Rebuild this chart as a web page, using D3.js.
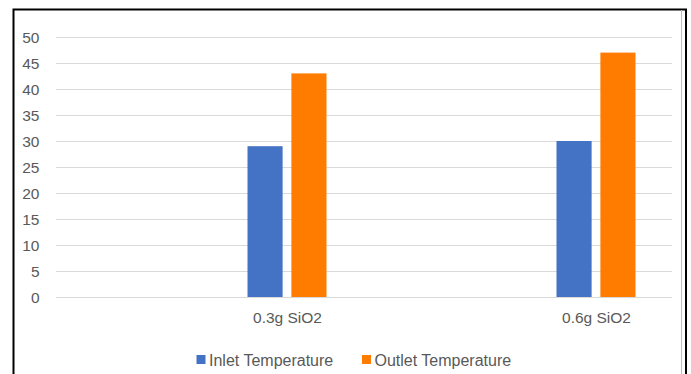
<!DOCTYPE html>
<html><head><meta charset="utf-8">
<script src="https://cdn.jsdelivr.net/npm/d3@7"></script>
<style>
html,body{margin:0;padding:0;background:#fff;}
svg{display:block;font-family:"Liberation Sans",Arial,sans-serif;}
</style></head>
<body><svg id="c" width="691" height="374"></svg>
<script>
const categories = ["0.3g SiO2", "0.6g SiO2"];
const seriesNames = ["Inlet Temperature", "Outlet Temperature"];
const inletValues = [29, 30];
const outletValues = [43, 47];
const yTicks = [0, 5, 10, 15, 20, 25, 30, 35, 40, 45, 50];
const colors = ["#4472C4", "#FF7C00"];

const svg = d3.select("#c");
const plot = {left: 56, right: 672, top: 37, bottom: 297};

// outer frame
svg.append("rect").attr("x", 13.5).attr("y", 9.5).attr("width", 672.5).attr("height", 380)
  .attr("fill", "none").attr("stroke", "#000").attr("stroke-width", 2);
svg.append("line").attr("x1", 681.5).attr("x2", 681.5).attr("y1", 10).attr("y2", 374)
  .attr("stroke", "#bfbfbf").attr("stroke-width", 1);

const y = d3.scaleLinear().domain([0, 50]).range([plot.bottom, plot.top]);
const x = d3.scalePoint().domain(categories).range([287, 596]);
const xs = d3.scaleBand().domain(seriesNames).range([-39.5, 39.5]).paddingInner(0.2);

// gridlines
svg.append("g").selectAll("line").data(yTicks).join("line")
  .attr("x1", plot.left).attr("x2", plot.right)
  .attr("y1", d => Math.round(y(d)) + 0.5).attr("y2", d => Math.round(y(d)) + 0.5)
  .attr("stroke", "#d9d9d9").attr("stroke-width", 1);

// y labels
const yAxis = d3.axisLeft(y).tickValues(yTicks).tickSize(0).tickPadding(0);
const ga = svg.append("g").attr("transform", `translate(39.5,0.5)`).call(yAxis);
ga.select(".domain").remove();
ga.selectAll("text").attr("fill", "#595959").style("font-size", "15.5px")
  .style("font-family", "'Liberation Sans', Arial, sans-serif");

// bars
const data = categories.map((c, i) => ({cat: c, vals: [inletValues[i], outletValues[i]]}));
const groups = svg.append("g").selectAll("g").data(data).join("g")
  .attr("transform", d => `translate(${x(d.cat)},0)`);
groups.selectAll("rect").data(d => d.vals.map((v, j) => ({s: seriesNames[j], v, j})))
  .join("rect")
  .attr("x", d => xs(d.s)).attr("width", xs.bandwidth())
  .attr("y", d => y(d.v)).attr("height", d => y(0) - y(d.v))
  .attr("fill", d => colors[d.j]);

// x labels
const xAxis = d3.axisBottom(x).tickSize(0).tickPadding(0);
const gx = svg.append("g").attr("transform", `translate(0,${plot.bottom + 15})`).call(xAxis);
gx.select(".domain").remove();
gx.selectAll("text").attr("fill", "#595959").style("font-size", "15.5px")
  .style("font-family", "'Liberation Sans', Arial, sans-serif");

// legend
const legendX = [196.5, 362];
const lg = svg.append("g").selectAll("g").data(seriesNames).join("g")
  .attr("transform", (d, i) => `translate(${legendX[i]},355)`);
lg.append("rect").attr("width", 9).attr("height", 9).attr("fill", (d, i) => colors[i]);
lg.append("text").attr("x", 12.5).attr("y", 10.5).text(d => d)
  .attr("fill", "#595959").style("font-size", "16px");
</script></body></html>
